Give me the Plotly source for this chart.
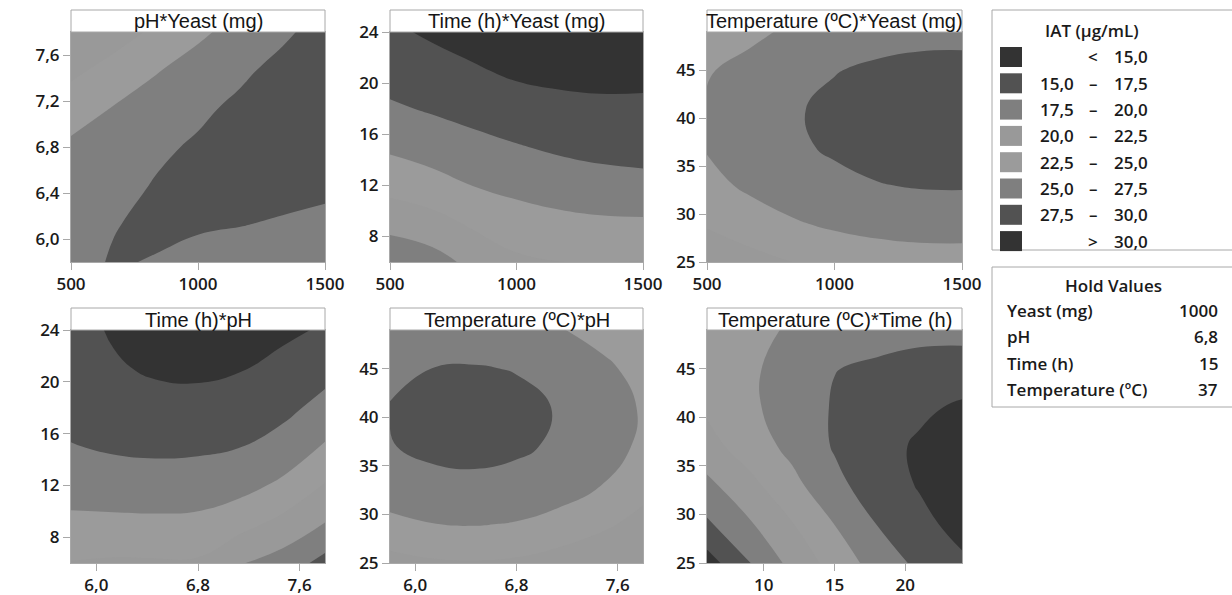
import plotly.graph_objects as go

# ---------------- data ----------------
yeast_grid = [500, 666.7, 833.3, 1000, 1166.7, 1333.3, 1500]
ph_grid = [5.8, 6.133, 6.467, 6.8, 7.133, 7.467, 7.8]
time_grid = [6, 9, 12, 15, 18, 21, 24]
temp_grid = [25, 29, 33, 37, 41, 45, 49]

z_ph_yeast = [
    [27.21, 27.57, 27.45, 27.00, 26.58, 26.01, 25.29],
    [27.19, 27.455, 27.68, 27.70, 27.58, 27.31, 26.90],
    [26.53, 26.82, 27.63, 27.96, 28.14, 28.17, 28.06],
    [25.44, 26.36, 27.13, 27.76, 28.25, 28.58, 28.77],
    [23.90, 25.12, 26.20, 27.13, 27.92, 28.55, 29.05],
    [21.90, 23.44, 24.82, 26.05, 27.14, 28.08, 28.87],
    [21.00, 21.30, 22.99, 24.52, 25.92, 27.16, 28.25],
]
z_time_yeast = [
    [18.01, 19.01, 20.70, 22.05, 22.49, 22.56, 22.41],
    [20.84, 21.55, 22.89, 23.88, 24.33, 24.56, 24.61],
    [23.31, 24.10, 25.07, 25.66, 26.15, 26.57, 26.82],
    [25.41, 26.11, 26.78, 27.35, 27.88, 28.23, 28.36],
    [27.16, 27.75, 28.33, 28.93, 29.35, 29.57, 29.61],
    [28.54, 29.06, 29.77, 30.43, 30.65, 30.68, 30.57],
    [29.57, 30.37, 30.98, 31.76, 31.82, 31.68, 31.41],
]
z_temp_yeast = [
    [20.54, 21.63, 22.50, 23.17, 23.63, 23.87, 23.91],
    [22.78, 23.87, 24.74, 25.41, 25.87, 26.11, 26.15],
    [24.32, 25.41, 26.28, 26.95, 27.41, 27.65, 27.69],
    [25.17, 26.26, 27.13, 27.80, 28.26, 28.50, 28.54],
    [25.32, 26.41, 27.28, 27.95, 28.41, 28.65, 28.69],
    [24.78, 25.87, 26.74, 27.41, 27.87, 28.11, 28.15],
    [23.54, 24.35, 25.50, 26.17, 26.63, 26.87, 26.91],
]
z_time_ph = [
    [22.40, 22.18, 22.24, 22.19, 20.15, 18.94, 16.67],
    [24.41, 24.42, 24.47, 24.36, 23.30, 21.73, 19.90],
    [26.07, 26.30, 26.39, 26.27, 25.82, 24.52, 22.34],
    [27.39, 27.81, 27.99, 27.91, 27.55, 26.59, 24.76],
    [28.37, 28.97, 29.29, 29.29, 28.98, 28.13, 26.75],
    [29.00, 29.77, 30.27, 30.41, 30.11, 29.34, 28.30],
    [29.30, 30.20, 30.93, 31.26, 30.93, 30.46, 29.75],
]
z_temp_ph = [
    [21.61, 22.18, 22.33, 22.10, 21.38, 20.28, 20.60],
    [24.41, 24.97, 25.12, 24.86, 24.18, 23.08, 21.57],
    [26.34, 26.91, 27.05, 26.79, 26.11, 25.01, 23.50],
    [27.41, 27.97, 28.12, 27.86, 27.18, 26.08, 24.57],
    [27.61, 28.18, 28.33, 28.06, 27.38, 26.28, 24.77],
    [26.95, 27.52, 27.66, 27.40, 26.72, 25.62, 24.11],
    [25.42, 25.99, 26.14, 25.87, 25.19, 24.09, 22.58],
]
z_temp_time = [
    [13.89, 17.41, 20.73, 23.48, 26.01, 28.07, 29.60],
    [17.11, 19.72, 22.38, 25.03, 27.55, 29.32, 30.82],
    [19.37, 21.81, 24.25, 26.86, 28.70, 30.18, 31.20],
    [21.65, 23.65, 25.69, 27.70, 29.10, 30.36, 31.36],
    [22.85, 24.52, 26.19, 27.70, 28.61, 29.53, 30.40],
    [23.33, 24.63, 25.93, 27.45, 27.80, 28.18, 28.55],
    [23.26, 24.26, 25.30, 26.20, 26.80, 26.95, 26.79],
]

levels = [15.0, 17.5, 20.0, 22.5, 25.0, 27.5, 30.0]
band_colors = ["#333333", "#525252", "#7f7f7f", "#999999",
               "#9b9b9b", "#7f7f7f", "#525252", "#333333"]

yeast_ticks = [500, 1000, 1500]
ph_ticks_y = [6.0, 6.4, 6.8, 7.2, 7.6]
ph_ticks_x = [6.0, 6.8, 7.6]
time_ticks_y = [8, 12, 16, 20, 24]
time_ticks_x = [10, 15, 20]
temp_ticks = [25, 30, 35, 40, 45]

hold_names = ["Yeast (mg)", "pH", "Time (h)", "Temperature (ºC)"]
hold_values = ["1000", "6,8", "15", "37"]

panel_titles = ["pH*Yeast (mg)", "Time (h)*Yeast (mg)", "Temperature (ºC)*Yeast (mg)",
                "Time (h)*pH", "Temperature (ºC)*pH", "Temperature (ºC)*Time (h)"]


def fmt(v, dec):
    return f"{v:.{dec}f}".replace(".", ",")


# ---------------- layout helpers ----------------
W, H = 1232, 595
def px(x):
    return x / W
def py(y):
    return 1 - y / H

cols = [(71, 325), (390, 643), (707, 962)]
rows = [(32, 262, 10), (330, 563, 308)]  # plot top, plot bottom, title top

panels = [
    dict(x=yeast_grid, y=ph_grid, z=z_ph_yeast, xr=[500, 1500], yr=[5.8, 7.8],
         xt=yeast_ticks, xtt=[str(v) for v in yeast_ticks],
         yt=ph_ticks_y, ytt=[fmt(v, 1) for v in ph_ticks_y], c=0, r=0),
    dict(x=yeast_grid, y=time_grid, z=z_time_yeast, xr=[500, 1500], yr=[6, 24],
         xt=yeast_ticks, xtt=[str(v) for v in yeast_ticks],
         yt=time_ticks_y, ytt=[str(v) for v in time_ticks_y], c=1, r=0),
    dict(x=yeast_grid, y=temp_grid, z=z_temp_yeast, xr=[500, 1500], yr=[25, 49],
         xt=yeast_ticks, xtt=[str(v) for v in yeast_ticks],
         yt=temp_ticks, ytt=[str(v) for v in temp_ticks], c=2, r=0),
    dict(x=ph_grid, y=time_grid, z=z_time_ph, xr=[5.8, 7.8], yr=[6, 24],
         xt=ph_ticks_x, xtt=[fmt(v, 1) for v in ph_ticks_x],
         yt=time_ticks_y, ytt=[str(v) for v in time_ticks_y], c=0, r=1),
    dict(x=ph_grid, y=temp_grid, z=z_temp_ph, xr=[5.8, 7.8], yr=[25, 49],
         xt=ph_ticks_x, xtt=[fmt(v, 1) for v in ph_ticks_x],
         yt=temp_ticks, ytt=[str(v) for v in temp_ticks], c=1, r=1),
    dict(x=time_grid, y=temp_grid, z=z_temp_time, xr=[6, 24], yr=[25, 49],
         xt=time_ticks_x, xtt=[str(v) for v in time_ticks_x],
         yt=temp_ticks, ytt=[str(v) for v in temp_ticks], c=2, r=1),
]

colorscale = [[k / 7, band_colors[k]] for k in range(8)]
tick_font = dict(family="Open Sans", size=17, color="#1a1a1a", weight=600)
frame = "#a8a8a8"

fig = go.Figure()
layout = dict(width=W, height=H, margin=dict(l=0, r=0, t=0, b=0, pad=0),
              autosize=False, paper_bgcolor="white", plot_bgcolor="white",
              showlegend=False)
shapes, annotations = [], []

for i, p in enumerate(panels):
    n = "" if i == 0 else str(i + 1)
    x0, x1 = cols[p["c"]]
    top, bot, ttop = rows[p["r"]]
    fig.add_trace(go.Contour(
        x=p["x"], y=p["y"], z=p["z"], xaxis="x" + n, yaxis="y" + n,
        autocontour=False,
        contours=dict(start=levels[0], end=levels[-1], size=2.5,
                      coloring="fill", showlines=False),
        line=dict(width=0, smoothing=1.3),
        colorscale=colorscale, showscale=False, hoverinfo="skip"))
    common = dict(showgrid=False, zeroline=False, showline=True, linecolor=frame,
                  linewidth=1, mirror=True, ticks="outside", ticklen=7,
                  tickcolor=frame, tickfont=tick_font, fixedrange=True,
                  automargin=False)
    layout["xaxis" + n] = dict(domain=[px(x0), px(x1)], range=p["xr"],
                              anchor="y" + n, tickvals=p["xt"], ticktext=p["xtt"],
                              **common)
    layout["yaxis" + n] = dict(domain=[py(bot), py(top)], range=p["yr"],
                              anchor="x" + n, tickvals=p["yt"], ticktext=p["ytt"],
                              **common)
    shapes.append(dict(type="rect", xref="paper", yref="paper",
                       x0=px(x0), x1=px(x1), y0=py(top), y1=py(ttop),
                       line=dict(color=frame, width=1), fillcolor="white"))
    annotations.append(dict(xref="paper", yref="paper", x=px((x0 + x1) / 2),
                            y=py((top + ttop) / 2 + 0.5), text=panel_titles[i],
                            showarrow=False, xanchor="center", yanchor="middle",
                            font=dict(family="Liberation Sans", size=20, color="#151515")))

# ---------------- legend (contour bands) ----------------
leg_font = dict(family="Open Sans", size=17, color="#1a1a1a", weight=600)
shapes.append(dict(type="rect", xref="paper", yref="paper", x0=px(992), x1=px(1240),
                   y0=py(250), y1=py(10), line=dict(color=frame, width=1),
                   fillcolor="white"))
annotations.append(dict(xref="paper", yref="paper", x=px(1092), y=py(30),
                        text="IAT (µg/mL)", showarrow=False, xanchor="center",
                        yanchor="middle", font=leg_font))
for k in range(8):
    yc = 57 + k * 26.3
    shapes.append(dict(type="rect", xref="paper", yref="paper", x0=px(1000),
                       x1=px(1022), y0=py(yc + 10), y1=py(yc - 10),
                       line=dict(width=0), fillcolor=band_colors[k]))
    if k == 0:
        lo, mid, hi = "", "<", fmt(levels[0], 1)
    elif k == 7:
        lo, mid, hi = "", ">", fmt(levels[-1], 1)
    else:
        lo, mid, hi = fmt(levels[k - 1], 1), "–", fmt(levels[k], 1)
    for txt, xx, anc in ((lo, 1076, "right"), (mid, 1093, "center"), (hi, 1150, "right")):
        if txt:
            annotations.append(dict(xref="paper", yref="paper", x=px(xx), y=py(yc),
                                    text=txt, showarrow=False, xanchor=anc,
                                    yanchor="middle", font=leg_font))

# ---------------- hold values ----------------
shapes.append(dict(type="rect", xref="paper", yref="paper", x0=px(992), x1=px(1240),
                   y0=py(407), y1=py(267), line=dict(color=frame, width=1),
                   fillcolor="white"))
annotations.append(dict(xref="paper", yref="paper", x=px(1113), y=py(285),
                        text="Hold Values", showarrow=False, xanchor="center",
                        yanchor="middle", font=leg_font))
for k, (nm, val) in enumerate(zip(hold_names, hold_values)):
    yc = 310 + k * 26.5
    annotations.append(dict(xref="paper", yref="paper", x=px(1005), y=py(yc),
                            text=nm, showarrow=False, xanchor="left",
                            yanchor="middle", font=leg_font))
    annotations.append(dict(xref="paper", yref="paper", x=px(1220), y=py(yc),
                            text=val, showarrow=False, xanchor="right",
                            yanchor="middle", font=leg_font))

layout["shapes"] = shapes
layout["annotations"] = annotations
fig.update_layout(**layout)
fig.write_html("out.html",
               config={"displayModeBar": False, "staticPlot": True},
               post_script="document.body.style.margin='0px';"
                           "document.body.style.overflow='hidden';")
